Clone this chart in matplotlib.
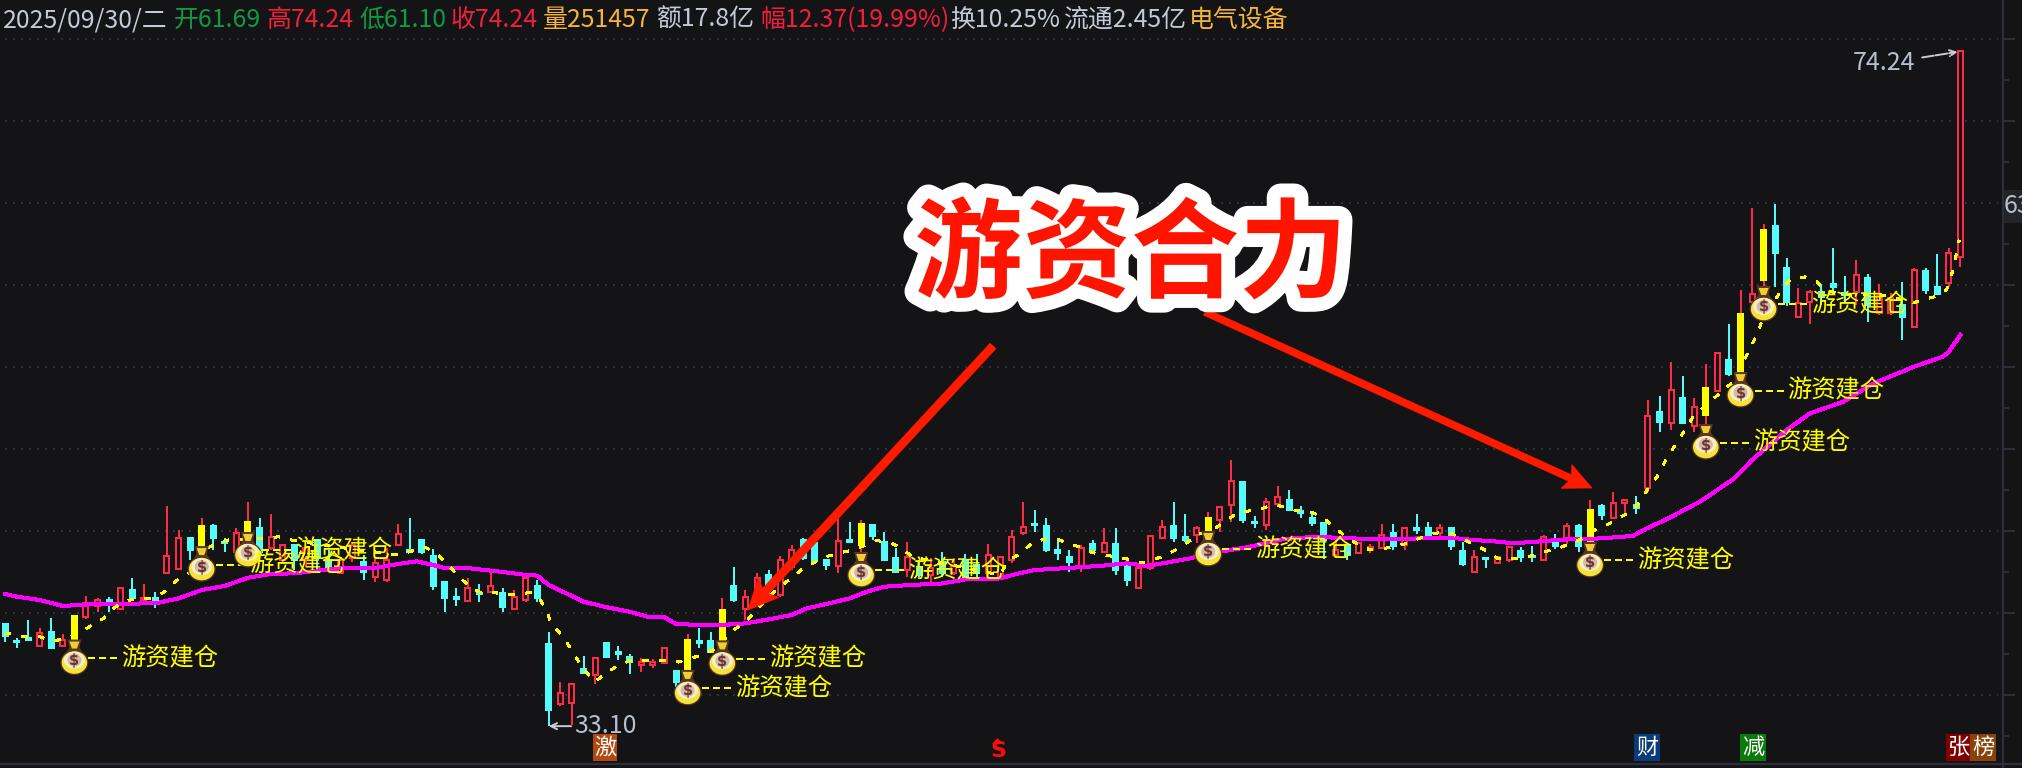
import matplotlib
matplotlib.use("Agg")
import matplotlib.pyplot as plt
import matplotlib.patheffects as pe
from matplotlib.patches import Rectangle, Ellipse, Polygon
from matplotlib.lines import Line2D
from matplotlib.transforms import Affine2D, IdentityTransform

plt.rcParams['font.family'] = ['Noto Sans CJK SC', 'DejaVu Sans']

candle_types = ("c c c r c r y r r c r c r c r r c y c c r y c r r c r c c r r c r r r c c c c c r c r "
                "c r r c c r r c r c c c r r r c y c c y c r r c r r c c c r c y c c c r c r c r c c r r "
                "r r c c c c r c r c c r r r c c r y r r c c r r c c c c r c r r r c r c c r c c r c r "
                "r c c r c r c y c r r c r c r c r y r c y r y c c r r c c c r c r r c r c c r r").split()

highs = [39.33,38.5,39.57,39.07,39.7,38.72,39.82,41.04,40.91,41.0,41.5,42.13,41.77,41.3,46.52,45.06,44.55,45.79,45.43,44.55,
         45.16,46.77,45.79,46.04,44.2,44.15,43.94,44.45,43.84,43.43,44.35,43.54,43.33,43.94,45.43,45.79,44.45,43.9,41.89,41.52,
         42.13,41.77,42.42,41.5,41.4,42.11,42.01,38.82,35.81,35.67,37.38,37.24,38.2,38.0,37.5,37.27,37.17,37.95,36.48,38.72,
         39.1,38.86,40.9,42.83,41.4,42.46,42.62,43.48,44.15,44.55,44.25,43.23,45.71,45.55,45.67,45.43,44.96,43.94,44.35,43.23,
         43.33,43.74,43.33,43.6,43.6,44.2,43.5,45.06,46.75,46.28,45.77,44.55,43.84,44.15,44.45,45.16,45.16,43.23,42.72,44.76,
         45.67,46.77,46.04,45.3,46.16,46.52,49.33,47.99,45.91,46.99,47.74,47.5,46.52,46.16,45.51,44.45,44.15,44.25,44.21,45.43,
         45.43,45.16,46.04,45.55,45.43,45.16,44.35,43.84,43.33,43.43,44.04,44.04,44.08,44.76,44.8,45.47,45.43,46.89,46.65,47.38,
         46.89,47.13,52.99,53.23,55.3,54.45,53.09,55.18,55.87,57.62,59.7,64.67,63.72,64.94,61.63,59.8,59.7,60.06,62.24,60.55,
         61.52,60.67,60.06,59.49,60.18,61.02,61.02,61.89,62.24,74.24]
body_tops = [39.33,38.3,38.45,38.8,38.84,38.35,39.82,40.63,40.79,40.79,41.5,41.4,40.89,40.89,43.48,44.55,44.55,45.3,45.3,44.35,
             44.9,45.55,45.16,44.65,44.15,44.15,43.94,44.45,43.23,43.23,44.15,43.13,43.07,43.23,44.8,43.84,44.45,43.48,41.89,40.95,
             41.5,41.24,41.65,41.2,40.96,42.11,41.65,38.11,35.14,35.67,36.57,37.24,38.15,37.64,37.34,37.03,37.03,37.85,36.48,38.35,
             38.3,38.3,40.18,41.65,41.0,42.11,42.32,43.23,43.84,44.45,44.25,43.23,44.41,44.45,45.43,45.37,44.35,43.33,43.43,42.83,
             42.72,43.13,42.93,43.23,42.93,43.54,43.43,44.65,45.26,45.45,45.3,43.84,43.43,43.94,44.21,44.29,44.21,42.83,42.72,44.7,
             45.26,45.3,44.65,45.16,45.79,46.48,48.07,47.99,45.57,46.79,47.09,46.89,46.22,45.77,45.47,43.84,44.15,44.25,44.04,44.76,
             44.9,45.16,45.16,45.16,45.16,45.16,43.8,43.43,43.33,43.39,44.0,43.8,43.5,44.65,44.25,45.3,45.3,46.28,46.52,46.73,
             46.89,46.59,52.01,52.28,53.6,53.09,52.58,53.7,55.87,55.43,58.21,59.43,63.35,63.6,61.02,58.92,59.59,59.59,60.06,59.53,
             60.61,60.41,59.39,59.19,58.78,60.91,60.87,59.9,61.97,74.24]
body_bottoms = [38.6,38.25,38.35,37.99,37.87,37.99,38.05,39.74,40.43,40.49,40.22,40.89,40.79,40.63,42.42,42.66,43.84,43.74,44.55,44.25,
                43.74,44.82,43.74,43.94,43.23,43.23,43.3,43.33,42.62,42.42,43.33,42.52,42.22,42.01,44.13,43.72,43.74,41.65,40.91,40.83,
                40.71,41.16,41.3,40.39,40.22,40.79,40.89,34.09,34.45,34.5,36.36,36.22,37.34,37.5,37.03,36.83,36.83,36.93,35.8,36.0,
                38.2,37.64,37.85,40.79,40.22,41.1,41.5,41.1,42.83,43.33,43.17,42.93,42.87,44.35,44.15,44.7,43.23,42.52,42.62,42.32,
                42.32,42.42,42.42,42.2,42.42,42.42,42.2,43.23,44.86,45.37,43.84,43.64,43.13,42.72,43.84,43.74,42.62,42.01,41.54,42.72,
                44.55,44.55,44.45,44.76,44.96,45.67,46.59,45.67,45.47,45.37,46.65,46.28,46.08,45.47,44.45,43.54,43.54,43.64,43.84,43.94,
                44.09,44.15,45.06,44.76,44.86,44.09,42.99,42.52,43.27,43.07,43.23,43.43,43.4,43.23,44.1,44.45,44.1,44.04,45.98,45.77,
                46.73,46.38,47.6,51.67,51.56,51.56,51.4,52.07,53.54,54.57,54.31,58.98,60.3,61.93,58.98,58.03,58.98,59.29,59.86,59.39,
                59.59,58.78,58.27,58.27,58.07,57.42,59.7,59.45,60.1,61.69]
lows = [38.23,37.87,38.35,37.99,37.87,37.99,37.9,39.63,40.06,40.06,40.18,40.89,40.69,40.3,42.42,42.62,43.23,43.2,43.84,43.74,
        43.74,44.0,43.23,43.84,43.0,42.62,42.8,42.62,42.5,42.42,43.13,42.01,41.91,41.91,44.09,43.64,43.6,41.4,40.06,40.43,
        40.67,40.67,41.3,40.08,40.18,40.69,40.69,33.10,34.33,33.2,36.32,35.7,37.3,37.13,36.28,36.4,36.63,36.89,35.3,35.8,
        37.85,37.58,37.74,40.69,39.57,40.79,41.1,41.0,42.62,43.23,43.03,42.62,42.46,44.35,43.43,44.45,43.23,42.42,42.2,42.2,
        41.9,42.2,42.3,42.0,42.1,42.2,42.0,43.03,44.76,44.96,43.74,43.23,42.52,42.52,43.64,43.64,42.32,41.67,41.54,42.62,
        44.49,44.35,44.35,44.25,44.76,44.96,45.57,45.47,45.16,45.06,46.65,46.28,45.77,45.3,43.27,43.54,43.23,43.64,43.64,43.94,
        43.84,43.84,44.82,44.76,44.7,43.84,42.87,42.52,42.72,42.99,43.1,43.1,43.1,43.2,43.88,44.2,43.7,43.9,45.67,45.77,
        46.04,46.04,47.4,51.06,51.16,51.56,51.06,51.26,53.54,54.45,54.2,58.98,59.49,59.86,58.72,58.03,57.62,58.78,59.39,58.98,
        58.78,57.76,58.17,58.17,56.65,57.42,59.45,59.45,59.9,61.10]

ma_days = [0,1,3,5,8,13,15,17,19,21,23,25,27,29,32,34,35.6,37,38,40,42,42.8,45,46,47,48.5,50,52,54,55.5,57,58,60,62,64,66,68,
           69.3,71,73,74.5,76,78,81,83,85,86,87.4,89,91.8,94.6,97,98.7,100.4,102.4,105,107.6,110.5,113.4,116,121.7,122,124.9,127,
           129,130.4,135,138,140.7,141.9,143.6,146.5,149.4,151,154,156,158.9,161.5,165,167.5,168,169]
ma_values = [41.16,41.0,40.79,40.43,40.55,40.59,40.89,41.4,41.65,42.15,42.38,42.42,42.58,42.74,42.74,42.99,43.15,42.93,42.74,42.74,
             42.58,42.52,42.32,42.28,41.7,41.2,40.69,40.35,40.08,39.78,39.74,39.33,39.27,39.27,39.37,39.61,39.88,40.28,40.55,40.89,
             41.3,41.6,41.7,41.8,42.05,42.05,42.11,42.38,42.62,42.74,42.87,43.03,42.87,43.07,43.33,43.74,44.04,44.51,44.65,44.55,
             44.49,44.57,44.59,44.45,44.35,44.25,44.49,44.55,44.7,45.16,45.71,46.79,48.17,49.33,51.16,52.17,52.89,54.0,55.02,55.63,
             55.93,56.95]

dash_days = [0,1,2,3,4,5,6.4,7.3,8.5,9.5,10.5,11.5,12.5,13.7,14.7,15.7,16.9,17.6,18.4,19.5,22.6,23.6,24.8,27,30,34,35.2,36.2,37.2,
             38.2,39.2,40.2,41.2,42.4,43.2,44.2,45.4,46.2,46.8,47.2,48,48.7,49.4,50.1,51,52,53,54,55,56,57.2,58.2,60.3,61.2,63.1,
             64.2,66,67.1,68.1,69.1,70.2,71.2,72.2,73.3,75.3,76.4,77.5,78.4,82,86,86.7,87.7,88.8,89.9,90.9,91.9,93,94,97,98.2,
             99.2,100.3,101.3,102.3,103.4,104.4,105.5,106.5,107.5,108.5,109.6,110.6,111.6,112.6,113.7,114.8,115.7,117,117.8,118.9,
             120,121,123,124,125,127.2,128.2,129,131,132.2,133.4,134.4,135.6,136.5,137.6,138.6,139.6,140.7,141.4,142,142.8,143.3,
             143.9,144.6,145.3,145.9,147.7,148.7,149.4,150.4,150.9,151.4,151.8,153.7,154.4,155.6,156.6,157.2,159,162.3,165,165.7,
             166.8,167.8,168.2,168.4,168.7,168.9]
dash_values = [38.78,38.66,38.52,38.56,38.29,38.4,38.76,39.17,39.67,40.35,40.75,40.87,40.87,41.24,41.91,42.36,42.87,44.0,44.29,44.49,
               44.55,44.65,44.45,44.2,43.9,43.54,43.78,44.04,43.68,43.03,42.22,41.6,41.2,41.24,41.1,41.16,41.24,40.89,40.14,39.41,
               38.72,38.05,37.24,36.48,35.81,36.36,36.81,37.09,37.13,37.09,37.09,37.01,37.46,37.74,39.02,39.61,41.0,41.65,42.22,42.78,
               43.17,43.48,43.68,43.84,44.41,44.33,43.94,43.43,42.9,42.32,43.19,43.6,44.29,44.51,44.51,44.25,44.0,43.68,43.29,43.05,
               43.23,43.52,43.9,44.35,44.86,45.1,45.57,46.12,46.22,46.34,46.59,46.48,46.24,46.24,45.91,45.3,44.76,44.15,43.9,43.9,
               44.04,44.21,44.76,44.9,44.86,44.09,43.74,43.33,43.33,43.54,43.8,44.0,44.29,44.61,45.14,45.43,45.83,46.28,46.85,47.6,
               48.31,49.02,49.74,50.51,51.26,51.97,53.09,53.7,54.1,55.53,56.24,56.95,57.7,59.9,60.37,60.49,60.2,59.7,59.4,59.39,
               58.92,59.09,59.29,59.7,60.41,61.22,61.97,62.74]

signal_days = [6,17,21,59,62,74,104,137,147,150,152]
signal_prices = [37.1,42.8,43.66,35.25,37.05,42.44,43.72,43.05,50.24,53.41,58.66]
signal_label = "游资建仓"
grid_prices = [35,40,45,50,55,60,65,70,75]
title_text = "游资合力"
header_items = [("2025/09/30/二",3,"#c3cad8"),("开61.69",174,"#0f9a44"),("高74.24",267,"#f0203c"),("低61.10",360,"#0f9a44"),
                ("收74.24",451,"#f0203c"),("量251457",543,"#f5b53a"),("额17.8亿",656,"#c3cad8"),("幅12.37(19.99%)",760,"#f0203c"),
                ("换10.25%",950,"#c3cad8"),("流通2.45亿",1064,"#c3cad8"),("电气设备",1189,"#f5b53a")]
event_tags = [("激",593,617,"#b04a10"),("财",1634,1660,"#0a3a78"),("减",1740,1766,"#0a7a0a"),("张",1946,1970,"#800000"),("榜",1970,1996,"#8a4208")]

BG = "#141315"
RED = "#ff2a48"
CYAN = "#54fcfc"
YELLOW = "#ffff00"
MAGENTA = "#ff00ff"
GRID = "#2d3040"
AXIS = "#2c2e3a"
PX = 72 / 100

fig = plt.figure(figsize=(20.22, 7.68), dpi=100, facecolor=BG)
ax = fig.add_axes([0, 0, 1, 1], facecolor=BG)
ax.set_xlim(-5 / 11.57, (2022 - 5) / 11.57)
ax.set_ylim(35 - 73 / 16.4, 35 + 695 / 16.4)
ax.axis("off")
ID = IdentityTransform()


def pxy(x, y):
    return (x, 768 - y)


# grid
ax.hlines(grid_prices, xmin=0, xmax=(1998 - 5) / 11.57, colors=GRID, lw=2 * PX, linestyles=[(0, (1, 3))], zorder=1)

# candles
half = 2.5 / 11.57
for i, t in enumerate(candle_types):
    top, bot, hi, lo = body_tops[i], body_bottoms[i], highs[i], lows[i]
    wick = CYAN if t == "c" else RED
    ax.plot([i, i], [top, hi], color=wick, lw=2 * PX, solid_capstyle="butt", antialiased=False, zorder=2)
    ax.plot([i, i], [bot, lo], color=wick, lw=2 * PX, solid_capstyle="butt", antialiased=False, zorder=2)
    if t == "r":
        ax.add_patch(Rectangle((i - half, bot), 2 * half, top - bot, facecolor=BG, edgecolor=RED, lw=2 * PX,
                               antialiased=False, zorder=2.1))
    else:
        col = CYAN if t == "c" else YELLOW
        ax.add_patch(Rectangle((i - half, bot), 2 * half, top - bot, facecolor=col, edgecolor=col, lw=2 * PX,
                               antialiased=False, zorder=2.1))

# lines
ax.plot(ma_days, ma_values, color=MAGENTA, lw=3 * PX, antialiased=False, zorder=3, solid_joinstyle="round")
ax.plot(dash_days, dash_values, color=YELLOW, lw=1.5 * PX, dashes=(3.6, 7.4), antialiased=False, zorder=4)

# signal bags + labels
for d, p in zip(signal_days, signal_prices):
    cx, cy = ax.transData.transform((d, p))
    tr = Affine2D().translate(cx, cy)
    ax.add_line(Line2D([cx + 14, cx + 47], [cy + 2.5, cy + 2.5], color=YELLOW, lw=2 * PX, dashes=(3, 2.5), transform=ID,
                       antialiased=False, zorder=5))
    ax.add_patch(Polygon([(-7, 21), (7, 21), (5, 13), (10, 5), (-10, 5), (-5, 13)], closed=True, facecolor="#5a3520",
                         edgecolor="none", transform=tr, zorder=5.1))
    ax.add_patch(Polygon([(-5, 19), (5, 19), (2.5, 12), (-2.5, 12)], closed=True, facecolor="#f0d030", edgecolor="none",
                         transform=tr, zorder=5.15))
    ax.add_patch(Ellipse((0, -2), 28, 25, facecolor="#5a3520", edgecolor="none", transform=tr, zorder=5.2))
    ax.add_patch(Ellipse((0, -2), 25.5, 22.5, facecolor="#f7e23a", edgecolor="none", transform=tr, zorder=5.3))
    ax.add_patch(Ellipse((0, 0.5), 21, 17, facecolor="#f6f0c8", edgecolor="none", transform=tr, zorder=5.4))
    ax.add_patch(Ellipse((0, 0.5), 14, 13, facecolor="#d6b8a4", edgecolor="none", transform=tr, zorder=5.5))
    ax.annotate("$", xy=(d, p), xytext=(0, 0), textcoords="offset pixels", ha="center", va="center",
                fontsize=10.5, fontweight="bold", color="#6a3434", zorder=5.6, family=["DejaVu Sans"])
    ax.annotate(signal_label, xy=(d, p), xytext=(47, 2.5), textcoords="offset pixels", ha="left", va="center",
                fontsize=17.5, color=YELLOW, zorder=6)

# high / low markers
ax.annotate("33.10", xy=(47, 33.10), xytext=(25, 0), textcoords="offset pixels", ha="left", va="center",
            fontsize=18, color="#b6c0d0", zorder=6,
            arrowprops=dict(arrowstyle="->", color="#c8ccd4", lw=1.4, shrinkA=0, shrinkB=0, mutation_scale=11))
ax.annotate("74.24", xy=(169, 74.24), xytext=(-45, -12), textcoords="offset pixels", ha="right", va="center",
            fontsize=18, color="#b6c0d0", zorder=6,
            arrowprops=dict(arrowstyle="->", color="#c8ccd4", lw=1.4, shrinkA=3, shrinkB=2, mutation_scale=11,
                            linestyle=(0, (6, 1))))

# right axis
ax.add_line(Line2D([2003, 2003], [0, 768], color=AXIS, lw=2.2 * PX, transform=ID, zorder=1))
for p in grid_prices:
    y = ax.transData.transform((0, p))[1]
    ax.add_line(Line2D([2003, 2014], [y, y], color=AXIS, lw=2 * PX, transform=ID, zorder=1))
    ax.add_line(Line2D([2003, 2008], [y - 41, y - 41], color=AXIS, lw=2 * PX, transform=ID, zorder=1))
ax.add_line(Line2D([0, 2022], [4.5, 4.5], color=AXIS, lw=2.4 * PX, transform=ID, zorder=1))
ax.add_patch(Rectangle(pxy(2004, 223), 18, 33, facecolor="#232428", edgecolor="none", transform=ID, zorder=1.5))
ax.text(*pxy(2004, 206), "63", color="#b6c0d0", fontsize=18, ha="left", va="center", transform=ID, zorder=1.6, clip_on=True)

# header
for s, x, c in header_items:
    ax.text(*pxy(x, 20), s, color=c, fontsize=17.9, ha="left", va="center", transform=ID, zorder=6)

# event tags
for s, x0, x1, c in event_tags:
    ax.add_patch(Rectangle(pxy(x0, 761), x1 - x0, 27, facecolor=c, edgecolor="none", transform=ID, zorder=5))
    ax.text(*pxy((x0 + x1) / 2, 747.5), s, color="white", fontsize=16, ha="center", va="center", transform=ID, zorder=5.1)
ax.text(*pxy(998, 751), "S", color="#ff0a0a", fontsize=16, fontweight="bold", ha="center", va="center",
        family=["DejaVu Sans"], transform=ID, zorder=5)
ax.add_patch(Polygon([pxy(992, 744), pxy(1003, 744), pxy(997.5, 738)], closed=True, facecolor="#ff0a0a",
                     edgecolor="none", transform=ID, zorder=5))


def big_arrow(x0, y0, x1, y1, width, head_len, head_half):
    dx, dy = x1 - x0, y1 - y0
    n = (dx * dx + dy * dy) ** 0.5
    ux, uy = dx / n, dy / n
    nx, ny = -uy, ux
    bx, by = x1 - ux * head_len, y1 - uy * head_len
    notch_x, notch_y = bx + ux * 4, by + uy * 4
    w = width / 2
    pts = [(x0 + nx * w, y0 + ny * w), (notch_x + nx * w, notch_y + ny * w), (bx + nx * head_half, by + ny * head_half),
           (x1, y1), (bx - nx * head_half, by - ny * head_half), (notch_x - nx * w, notch_y - ny * w),
           (x0 - nx * w, y0 - ny * w)]
    ax.add_patch(Polygon([pxy(a, b) for a, b in pts], closed=True, facecolor="#ff1a00", edgecolor="#ff1a00", lw=0.5,
                         joinstyle="round", transform=ID, zorder=8))


big_arrow(993, 346, 748, 610, 8, 30, 14)
big_arrow(1205, 312, 1592, 488, 7, 28, 13)

# title
ax.text(*pxy(1131, 258), title_text, color="#ff1400", fontsize=78, fontweight="bold", ha="center", va="center",
        transform=ID, zorder=9, path_effects=[pe.withStroke(linewidth=20, foreground="white")])

fig.savefig("out.png", dpi=100, facecolor=BG)
